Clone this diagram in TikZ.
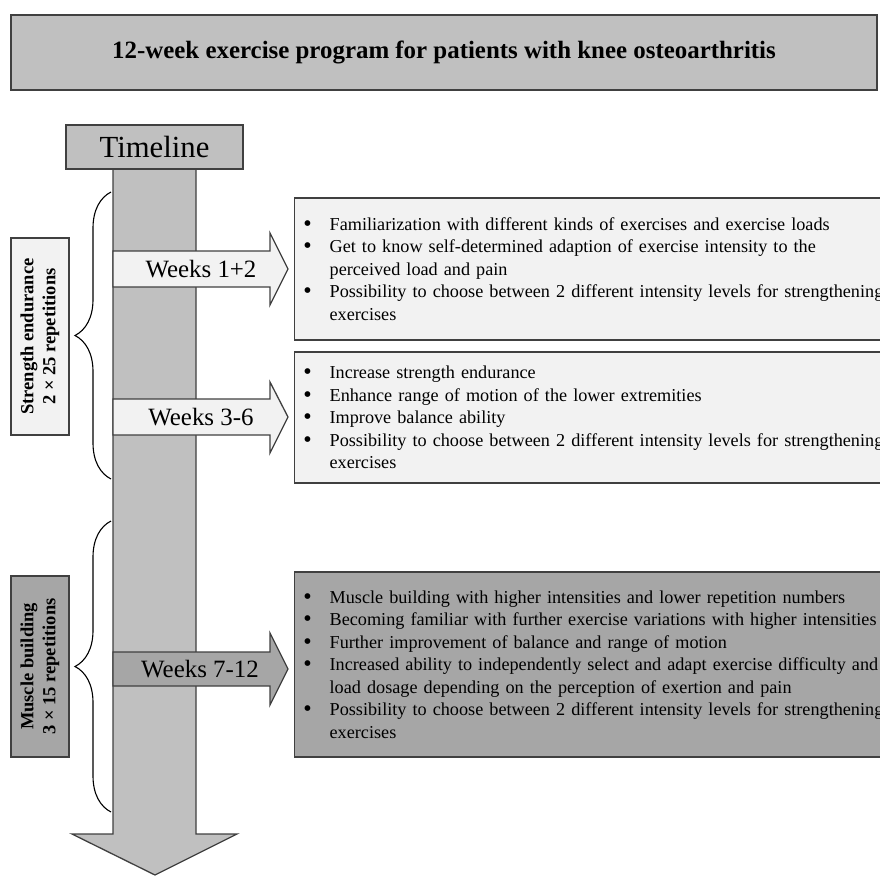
\documentclass[tikz,border=0pt]{standalone}
\usepackage{fontspec}
\setmainfont{Liberation Serif}
\usepackage{enumitem}
\usetikzlibrary{positioning,decorations.pathreplacing}

\definecolor{boxmid}{HTML}{C0C0C0}
\definecolor{boxlight}{HTML}{F2F2F2}
\definecolor{boxdark}{HTML}{A6A6A6}
\definecolor{edgegray}{HTML}{404040}

\setlist[itemize]{nosep, leftmargin=25pt, labelsep=18pt,
  label={\raisebox{-1pt}{\fontsize{24}{24}\selectfont\textbullet}}, after=\vspace{10pt}}

\tikzset{
  frame/.style={draw=edgegray, line width=1.3pt},
  headbox/.style={frame, fill=boxmid, inner sep=0pt},
  infobox/.style={frame, anchor=west, text width=620pt, inner xsep=10pt, inner ysep=0pt, align=left,
    font=\fontsize{18.2}{22.5}\selectfont},
  sidelabel/.style={frame, rotate=90, inner sep=0pt, minimum height=58pt, align=center,
    font=\bfseries\fontsize{18.5}{22}\selectfont},
  weekarrow/.style={frame},
  weeklabel/.style={inner sep=0pt, font=\fontsize{24.9}{28}\selectfont},
  curly/.style={draw=black, line width=1.1pt, decorate, decoration={brace, amplitude=36pt}}
}

\begin{document}
\begin{tikzpicture}[x=1pt, y=-1pt]
    \useasboundingbox (0,0) rectangle (880,876);
    \clip (0,0) rectangle (880,876);

    % title
    \node[headbox, minimum width=866pt, minimum height=75pt, font=\bfseries\fontsize{24.9}{28}\selectfont]
        (title) at (444,52.5) {12-week exercise program for patients with knee osteoarthritis};

    % timeline
    \draw[frame, fill=boxmid] (113,169) -- (196,169) -- (196,834) -- (237,834) -- (155,875)
        -- (72,834) -- (113,834) -- cycle;
    \node[headbox, minimum width=177pt, minimum height=44pt, font=\fontsize{30.7}{34}\selectfont]
        (timeline) at (154.5,147) {Timeline};

    % braces
    \coordinate (se_b) at (111,479);
    \coordinate (se_t) at (111,192);
    \coordinate (mb_b) at (111,812);
    \coordinate (mb_t) at (111,521);
    \draw[curly] (se_b) -- (se_t);
    \draw[curly] (mb_b) -- (mb_t);

    \node[sidelabel, fill=boxlight, minimum width=197pt] (se) at (40,336.5)
        {Strength endurance\\2 × 25 repetitions};
    \node[sidelabel, fill=boxdark, minimum width=181pt] (mb) at (40,666.5)
        {Muscle building\\3 × 15 repetitions};

    % weeks
    \draw[weekarrow, fill=boxlight] (113,251) -- (270,251) -- (270,233) -- (288,269) -- (270,305)
        -- (270,287) -- (113,287) -- cycle;
    \node[weeklabel] (w12) at (201,269) {Weeks 1+2};
    \draw[weekarrow, fill=boxlight] (113,399) -- (270,399) -- (270,382) -- (288,417) -- (270,453)
        -- (270,435) -- (113,435) -- cycle;
    \node[weeklabel] (w36) at (201,417) {Weeks 3-6};
    \draw[weekarrow, fill=boxdark] (113,652) -- (270,652) -- (270,633) -- (288,669) -- (270,705)
        -- (270,686) -- (113,686) -- cycle;
    \node[weeklabel] (w712) at (200,669) {Weeks 7-12};

    % goals
    \node[infobox, fill=boxlight, minimum height=142pt] (goals1) at (294,269) {%
      \begin{itemize}
        \item Familiarization with different kinds of exercises and exercise loads
        \item Get to know self-determined adaption of exercise intensity to the\newline perceived load and pain
        \item Possibility to choose between 2 different intensity levels for strengthening\newline exercises
      \end{itemize}};
    \node[infobox, fill=boxlight, minimum height=131pt] (goals2) at (294,417.5) {%
      \begin{itemize}
        \item Increase strength endurance
        \item Enhance range of motion of the lower extremities
        \item Improve balance ability
        \item Possibility to choose between 2 different intensity levels for strengthening\newline exercises
      \end{itemize}};
    \node[infobox, fill=boxdark, minimum height=185pt] (goals3) at (294,664.5) {%
      \begin{itemize}
        \item Muscle building with higher intensities and lower repetition numbers
        \item Becoming familiar with further exercise variations with higher intensities
        \item Further improvement of balance and range of motion
        \item Increased ability to independently select and adapt exercise difficulty and\newline load dosage depending on the perception of exertion and pain
        \item Possibility to choose between 2 different intensity levels for strengthening\newline exercises
      \end{itemize}};
\end{tikzpicture}
\end{document}
